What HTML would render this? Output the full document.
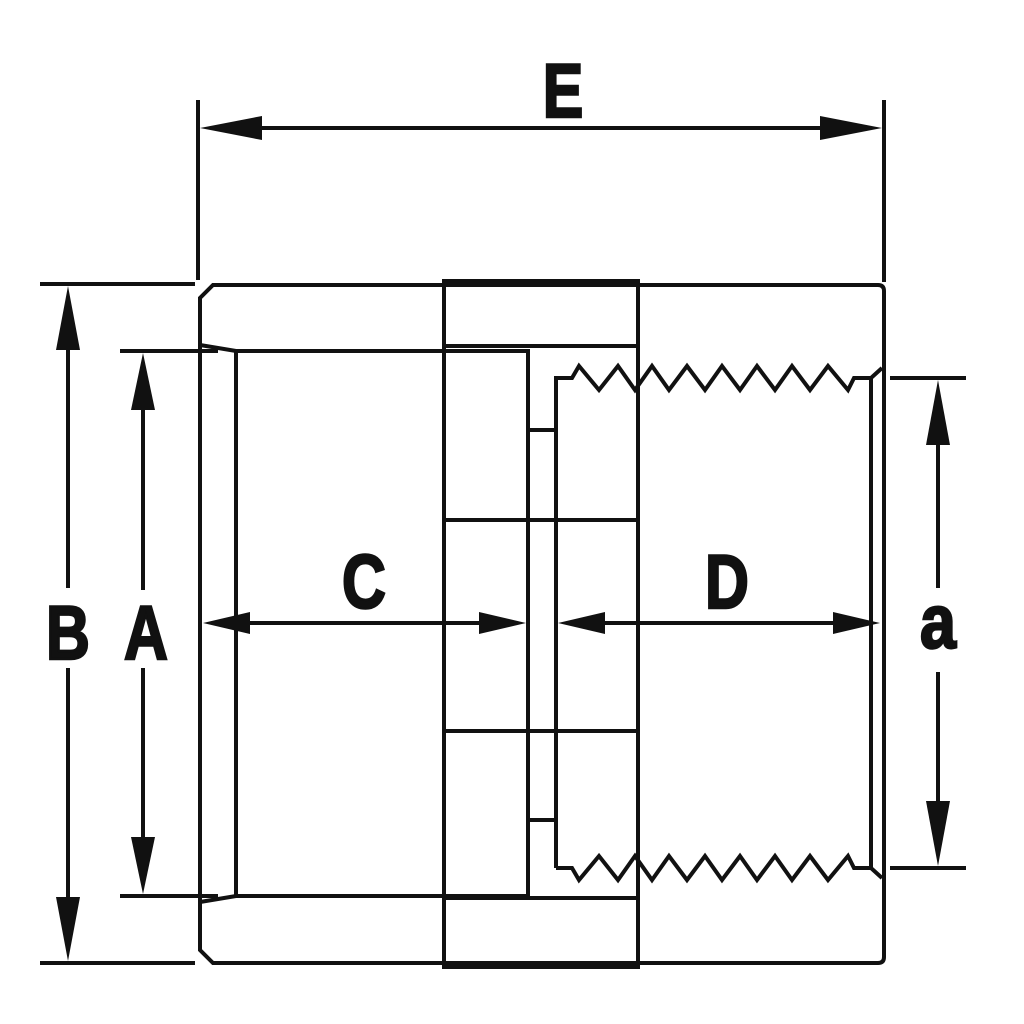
<!DOCTYPE html>
<html><head><style>
html,body{margin:0;padding:0;background:#fff;width:1024px;height:1024px;overflow:hidden}
svg{display:block}
text{font-family:"Liberation Sans Narrow","Liberation Sans",sans-serif;font-weight:bold;fill:#111;stroke:#111;stroke-width:2.5;text-anchor:middle}
</style></head><body>
<svg width="1024" height="1024" viewBox="0 0 1024 1024">
<g stroke="#111" stroke-width="4" fill="none" stroke-linejoin="miter">
<path d="M213 285 L878 285 Q884 285 884 291 L884 957 Q884 963 878 963 L213 963 L200 950 L200 298 Z"/>
<rect x="444" y="281" width="194" height="686"/>
<line x1="444" y1="346" x2="638" y2="346"/>
<line x1="444" y1="520" x2="638" y2="520"/>
<line x1="444" y1="731" x2="638" y2="731"/>
<line x1="444" y1="898" x2="638" y2="898"/>
<path d="M200 345 L236 351 L528 351 L528 896 L236 896 L200 902"/>
<line x1="236" y1="351" x2="236" y2="896"/>
<line x1="528" y1="430" x2="556" y2="430"/>
<line x1="528" y1="820" x2="556" y2="820"/>
<path d="M556 868 L556 378 L572 378 L579 366 L599 390 L618 366 L635 390 L652 366 L669 390 L687 366 L705 390 L722 366 L740 390 L757 366 L775 390 L792 366 L810 390 L828 366 L848 390 L854 378 L871 378 L882 368"/>
<path d="M556 868 L572 868 L579 880 L599 856 L618 880 L635 856 L652 880 L669 856 L687 880 L705 856 L722 880 L740 856 L757 880 L775 856 L792 880 L810 856 L828 880 L848 856 L854 868 L871 868 L882 878"/>
<line x1="871" y1="378" x2="871" y2="868"/>
<line x1="198" y1="100" x2="198" y2="280"/>
<line x1="884" y1="100" x2="884" y2="282"/>
<line x1="40" y1="284" x2="195" y2="284"/>
<line x1="40" y1="963" x2="195" y2="963"/>
<line x1="120" y1="351" x2="218" y2="351"/>
<line x1="120" y1="896" x2="218" y2="896"/>
<line x1="890" y1="378" x2="966" y2="378"/>
<line x1="890" y1="868" x2="966" y2="868"/>
<line x1="240" y1="128" x2="844" y2="128"/>
<line x1="68" y1="320" x2="68" y2="588"/>
<line x1="68" y1="668" x2="68" y2="928"/>
<line x1="143" y1="388" x2="143" y2="590"/>
<line x1="143" y1="668" x2="143" y2="860"/>
<line x1="240" y1="623" x2="490" y2="623"/>
<line x1="594" y1="623" x2="844" y2="623"/>
<line x1="938" y1="414" x2="938" y2="588"/>
<line x1="938" y1="672" x2="938" y2="832"/>
</g>
<g fill="#111">
<polygon points="200,128 262,116 262,140"/>
<polygon points="882,128 820,116 820,140"/>
<polygon points="68,286 56,350 80,350"/>
<polygon points="68,961 56,897 80,897"/>
<polygon points="143,353 131,410 155,410"/>
<polygon points="143,894 131,837 155,837"/>
<polygon points="203,623 250,612 250,634"/>
<polygon points="526,623 479,612 479,634"/>
<polygon points="558,623 605,612 605,634"/>
<polygon points="880,623 833,612 833,634"/>
<polygon points="938,380 926,445 950,445"/>
<polygon points="938,866 926,801 950,801"/>
</g>
<g font-size="76">
<text x="563" y="117" transform="translate(563 0) scale(0.8 1) translate(-563 0)">E</text>
<text x="68" y="659" transform="translate(68 0) scale(0.8 1) translate(-68 0)">B</text>
<text x="146" y="659" transform="translate(146 0) scale(0.8 1) translate(-146 0)">A</text>
<text x="364" y="608" transform="translate(364 0) scale(0.8 1) translate(-364 0)">C</text>
<text x="727" y="608" transform="translate(727 0) scale(0.8 1) translate(-727 0)">D</text>
<text x="938" y="648" transform="translate(938 0) scale(0.85 1) translate(-938 0)">a</text>
</g>
</svg>
</body></html>
